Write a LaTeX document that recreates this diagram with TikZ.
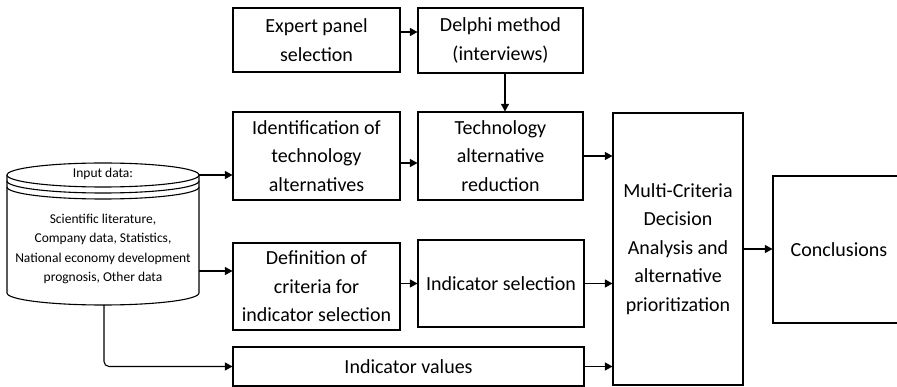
\documentclass[tikz,border=0pt]{standalone}
\usepackage{fontspec}
\setmainfont{Carlito}
\usetikzlibrary{arrows.meta}

\begin{document}
\begin{tikzpicture}[x=1pt, y=-1pt, line width=1.1pt,
    box/.style={draw, fill=white, align=center, inner sep=0pt,
      font=\fontsize{20}{28.5}\selectfont},
    smalltxt/.style={align=center, inner sep=0pt,
      font=\fontsize{13.5}{19.5}\selectfont},
    flow/.style={-{Triangle[length=7.5pt,width=8pt]}}]
      \clip (0,0) rectangle (897,387);
      % input data cylinder
      \draw[fill=white] (7,175) -- (7,293)
        arc[start angle=180, end angle=0, x radius=96, y radius=12] -- (199,175);
      \draw[fill=white] (103,175) ellipse[x radius=96, y radius=12];
      \draw (7,181) arc[start angle=180, end angle=0, x radius=96, y radius=12];
      \draw (7,187) arc[start angle=180, end angle=0, x radius=96, y radius=12];
      \node[smalltxt] (inhead) at (103,174) {Input data:};
      \node[smalltxt] (input) at (103,249) {Scientific literature,\\Company data, Statistics,\\National economy development\\prognosis, Other data};
      \coordinate (in1) at (199,175);
      \coordinate (in2) at (199,271);
      \coordinate (in3) at (104,305);
      % boxes
      \node[box, minimum width=167, minimum height=64] (expert) at (316.5,40) {Expert panel\\selection};
      \node[box, minimum width=165, minimum height=65] (delphi) at (500.5,40.5) {Delphi method\\(interviews)};
      \node[box, minimum width=167, minimum height=88] (ident) at (316.5,156) {Identification of\\technology\\alternatives};
      \node[box, minimum width=165, minimum height=88] (reduct) at (500.5,156) {Technology\\alternative\\reduction};
      \node[box, minimum width=167, minimum height=87] (defin) at (316.5,286.5) {Definition of\\criteria for\\indicator selection};
      \node[box, minimum width=166, minimum height=87] (indsel) at (501,283.5) {Indicator selection};
      \node[box, minimum width=351, minimum height=39] (indval) at (408.5,366.5) {Indicator values};
      \node[box, minimum width=130, minimum height=272] (mcda) at (678,249) {Multi-Criteria\\Decision\\Analysis and\\alternative\\prioritization};
      \node[box, minimum width=132, minimum height=147] (concl) at (839,249.5) {Conclusions};
      % connectors
      \draw[flow] ([yshift=8pt]expert.east) -- ([yshift=8pt]expert.east -| delphi.west);
      \draw[flow] ([xshift=4.5pt]delphi.south) -- ([xshift=4.5pt]delphi.south |- reduct.north);
      \draw[flow] (in1) -- (in1 -| ident.west);
      \draw[flow] ([yshift=-7pt]ident.east) -- ([yshift=-7pt]ident.east -| reduct.west);
      \draw[flow] (reduct.east) -- (reduct.east -| mcda.west);
      \draw[flow] (in2) -- (in2 -| defin.west);
      \draw[flow] (defin.east |- indsel.west) -- (indsel.west);
      \draw[flow] (indsel.east) -- (indsel.east -| mcda.west);
      \draw[flow, rounded corners=5pt] (in3) |- (indval.west);
      \draw[flow] (indval.east) -- (indval.east -| mcda.west);
      \draw[flow] (mcda.east) -- (mcda.east -| concl.west);
\end{tikzpicture}
\end{document}
